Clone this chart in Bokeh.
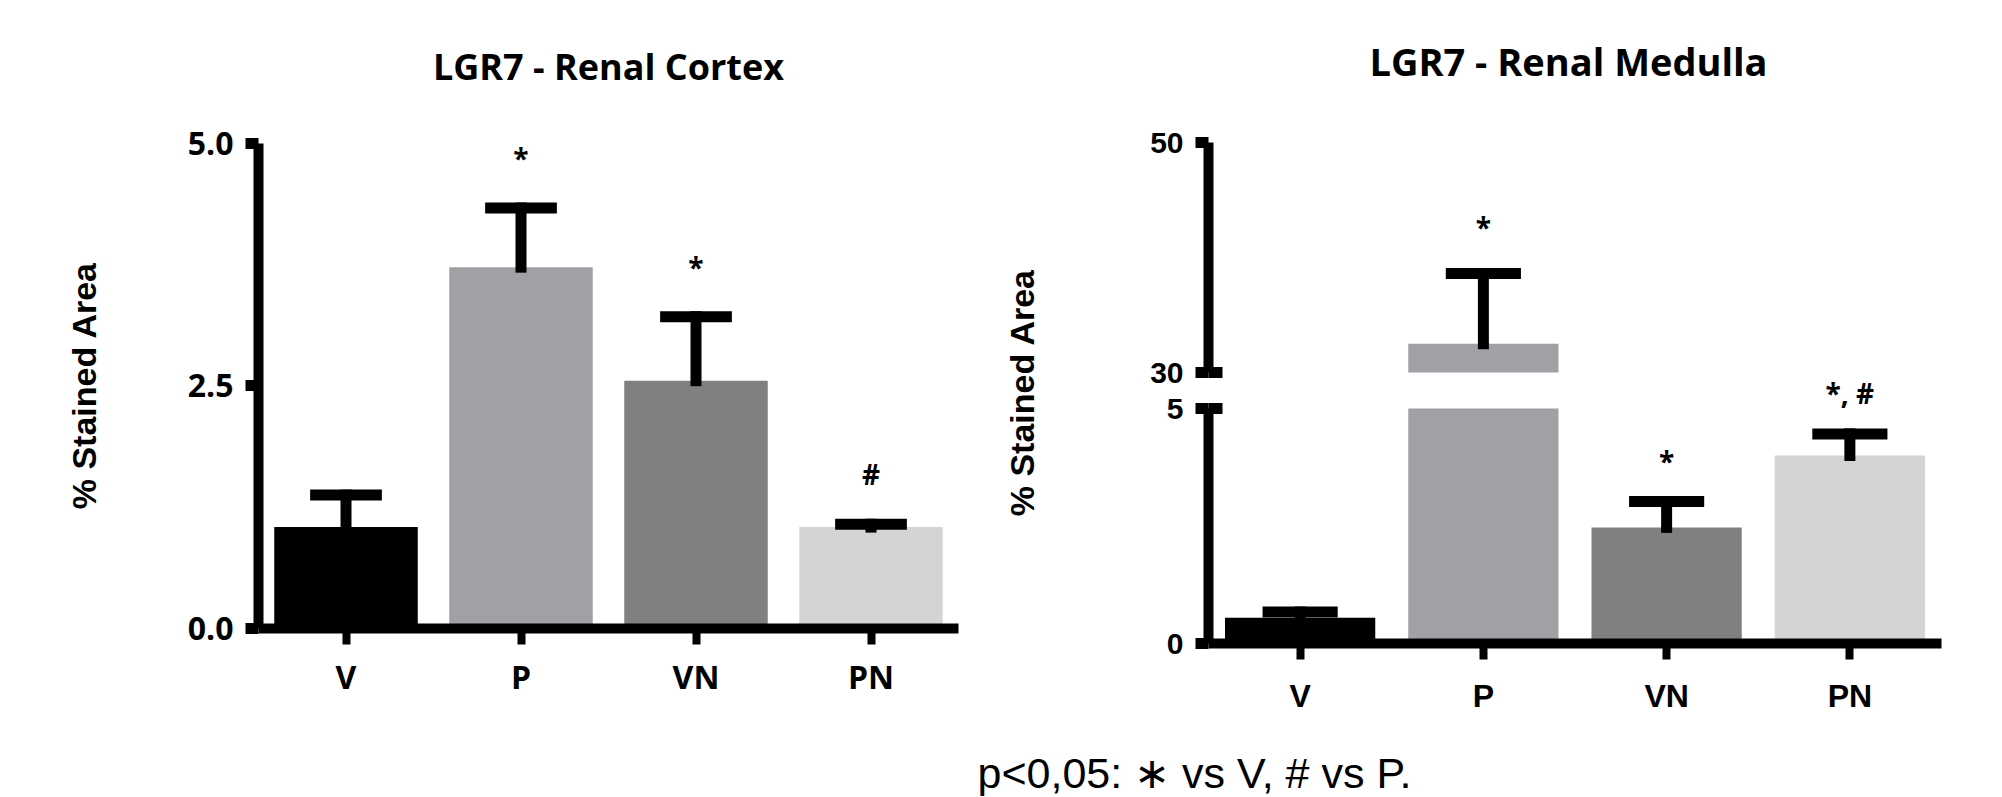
from bokeh.plotting import figure
from bokeh.models import (Range1d, FixedTicker, NumeralTickFormatter,
                          ColumnDataSource, Label, LinearAxis)
from bokeh.layouts import row, column
from bokeh.embed import file_html
from bokeh.resources import INLINE
from bokeh.core.properties import value

# ---------------- data ----------------
categories = ["V", "P", "VN", "PN"]
bar_colors = ["#000000", "#a1a0a5", "#808080", "#d4d4d4"]

cortex_mean = [1.04, 3.72, 2.55, 1.04]
cortex_sem = [0.33, 0.61, 0.66, 0.03]
cortex_marks = ["", "*", "*", "#"]

medulla_mean = [0.55, 32.5, 2.47, 4.00]
medulla_sem = [0.12, 6.1, 0.55, 0.46]
medulla_marks = ["", "*", "*", "*, #"]

cortex_ticks = [0, 2.5, 5.0]
medulla_low_ticks = [0, 5]
medulla_high_ticks = [30, 50]

title_cortex = "LGR7 - Renal Cortex"
title_medulla = "LGR7 - Renal Medulla"
y_label = "% Stained Area"
footnote = "p<0,05: \u2217 vs V, # vs P."

HEAD_FONT = "Open Sans"
AX_FONT = "Liberation Sans"
H = 728                      # height of the chart row (px)
x_pos = [i + 0.5 for i in range(len(categories))]


def make_fig(cx0, cx1, origin_x, cat_px, zero_px, unit_px):
    """Figure whose frame fills the canvas; axes sit at fixed locations."""
    p = figure(x_range=Range1d((cx0 - origin_x) / cat_px, (cx1 - origin_x) / cat_px),
               y_range=Range1d((zero_px - H) / unit_px, zero_px / unit_px),
               frame_width=cx1 - cx0, frame_height=H, min_border=0,
               output_backend="svg", toolbar_location=None)
    p.extra_x_ranges = {"px": Range1d(cx0, cx1)}
    p.extra_y_ranges = {"px": Range1d(H, 0)}
    p.xgrid.visible = False
    p.ygrid.visible = False
    p.outline_line_color = None
    p.background_fill_color = "white"
    p.border_fill_color = "white"
    return p


def add_bar_glyphs(p, xs, bottom, top, colors, rng="default"):
    src = ColumnDataSource(dict(x=xs, bottom=bottom, top=top, color=colors))
    p.vbar(x="x", top="top", bottom="bottom", width=0.82, fill_color="color",
           line_color=None, source=src, y_range_name=rng)


def add_err_glyphs(p, xs, top, upper, marks, mark_off, rng="default"):
    src = ColumnDataSource(dict(x=xs, top=top, upper=upper, mark=marks))
    p.segment(x0="x", y0="top", x1="x", y1="upper", line_width=11,
              line_color="black", line_cap="square", source=src, y_range_name=rng)
    p.rect(x="x", y="upper", width=0.41, height=11, height_units="screen",
           fill_color="black", line_color=None, source=src, y_range_name=rng)
    p.text(x="x", y="upper", text="mark", text_align="center",
           text_baseline="alphabetic", y_offset=-mark_off,
           text_font=value(HEAD_FONT), text_font_style="bold",
           text_font_size="28px", text_color="black", source=src, y_range_name=rng)


def style_yaxis(ax, font, size):
    ax.fixed_location = 0
    ax.axis_line_width = 10
    ax.axis_line_color = "black"
    ax.major_tick_line_width = 11
    ax.major_tick_line_color = "black"
    ax.major_tick_out = 13
    ax.major_tick_in = 0
    ax.minor_tick_line_color = None
    ax.major_label_text_font = font
    ax.major_label_text_font_style = "bold"
    ax.major_label_text_font_size = size
    ax.major_label_text_color = "black"
    ax.major_label_standoff = 12


def break_caps(ax):
    ax.minor_tick_line_color = "black"
    ax.minor_tick_line_width = 11
    ax.minor_tick_in = 14
    ax.minor_tick_out = 0


def style_xaxis(ax, font, standoff):
    ax.fixed_location = 0
    ax.bounds = (0, len(categories))
    ax.ticker = FixedTicker(ticks=x_pos)
    ax.major_label_overrides = {x: c for x, c in zip(x_pos, categories)}
    ax.axis_line_width = 10
    ax.axis_line_color = "black"
    ax.major_tick_line_width = 8
    ax.major_tick_line_color = "black"
    ax.major_tick_out = 16
    ax.major_tick_in = 0
    ax.minor_tick_line_color = None
    ax.major_label_text_font = font
    ax.major_label_text_font_style = "bold"
    ax.major_label_text_font_size = "32px"
    ax.major_label_text_color = "black"
    ax.major_label_standoff = standoff


def px_label(text, x, y, size, font, style="bold", angle=0):
    return Label(x=x, y=y, x_range_name="px", y_range_name="px", text=text,
                 angle=angle, angle_units="deg", text_align="center",
                 text_baseline="middle", text_font=font, text_font_style=style,
                 text_font_size=size, text_color="black")


# ---------------- left: cortex ----------------
p1 = make_fig(0, 970, origin_x=258, cat_px=175, zero_px=627.5, unit_px=97)
cortex_upper = [m + s for m, s in zip(cortex_mean, cortex_sem)]
add_bar_glyphs(p1, x_pos, [0] * len(categories), cortex_mean, bar_colors)
add_err_glyphs(p1, x_pos, cortex_mean, cortex_upper, cortex_marks, 50)
p1.yaxis.ticker = FixedTicker(ticks=cortex_ticks)
p1.yaxis.formatter = NumeralTickFormatter(format="0.0")
p1.yaxis.bounds = (cortex_ticks[0], cortex_ticks[-1])
style_yaxis(p1.yaxis[0], HEAD_FONT, "32px")
style_xaxis(p1.xaxis[0], HEAD_FONT, 11)
p1.add_layout(px_label(title_cortex, 608, 66, "36px", HEAD_FONT))
p1.add_layout(px_label(y_label, 83, 385, "34px", AX_FONT, angle=90))

# ---------------- right: medulla with broken axis ----------------
low_max = medulla_low_ticks[-1]
high_min, high_max = medulla_high_ticks[0], medulla_high_ticks[-1]
LOW_ZERO, LOW_UNIT = 643, 47          # 0 at 643 px, 5 at 408 px
HIGH_30, HIGH_UNIT = 372, 11.5        # 30 at 372 px, 50 at 142 px

p2 = make_fig(970, 1971, origin_x=1208, cat_px=183.25, zero_px=LOW_ZERO, unit_px=LOW_UNIT)
p2.extra_y_ranges["upper"] = Range1d(high_min - (H - HIGH_30) / HIGH_UNIT,
                                     high_min + HIGH_30 / HIGH_UNIT)

medulla_upper = [m + s for m, s in zip(medulla_mean, medulla_sem)]
high_idx = [i for i, m in enumerate(medulla_mean) if m > high_min]
low_idx = [i for i in range(len(categories)) if i not in high_idx]

# lower segment (0-5): every bar, cut at the top of the segment
add_bar_glyphs(p2, x_pos, [0] * len(categories),
               [min(m, low_max) for m in medulla_mean], bar_colors)
add_err_glyphs(p2, [x_pos[i] for i in low_idx],
               [medulla_mean[i] for i in low_idx],
               [medulla_upper[i] for i in low_idx],
               [medulla_marks[i] for i in low_idx], 41)
# upper segment (30-50)
add_bar_glyphs(p2, [x_pos[i] for i in high_idx], [high_min] * len(high_idx),
               [medulla_mean[i] for i in high_idx],
               [bar_colors[i] for i in high_idx], rng="upper")
add_err_glyphs(p2, [x_pos[i] for i in high_idx],
               [medulla_mean[i] for i in high_idx],
               [medulla_upper[i] for i in high_idx],
               [medulla_marks[i] for i in high_idx], 47, rng="upper")

low_axis = p2.yaxis[0]
low_axis.bounds = (0, low_max)
low_axis.ticker = FixedTicker(ticks=medulla_low_ticks, minor_ticks=[low_max])
style_yaxis(low_axis, AX_FONT, "30px")
break_caps(low_axis)

high_axis = LinearAxis(y_range_name="upper", bounds=(high_min, high_max),
                       ticker=FixedTicker(ticks=medulla_high_ticks, minor_ticks=[high_min]))
style_yaxis(high_axis, AX_FONT, "30px")
break_caps(high_axis)
p2.add_layout(high_axis, "left")

style_xaxis(p2.xaxis[0], AX_FONT, 18)
p2.add_layout(px_label(title_medulla, 1568, 60, "38px", HEAD_FONT))
p2.add_layout(px_label(y_label, 1021, 392, "34px", AX_FONT, angle=90))

# ---------------- footnote ----------------
p4 = figure(x_range=Range1d(0, 1971), y_range=Range1d(0, 68),
            frame_width=1971, frame_height=68, min_border=0,
            output_backend="svg", toolbar_location=None)
p4.xgrid.visible = False
p4.ygrid.visible = False
p4.outline_line_color = None
p4.axis.visible = False
p4.add_layout(Label(x=1194, y=23.5, text=footnote, text_align="center",
                    text_baseline="middle", text_font=AX_FONT,
                    text_font_size="43px", text_color="black"))

layout = column(row(p1, p2), p4)
open("out.html", "w").write(file_html(layout, INLINE))
